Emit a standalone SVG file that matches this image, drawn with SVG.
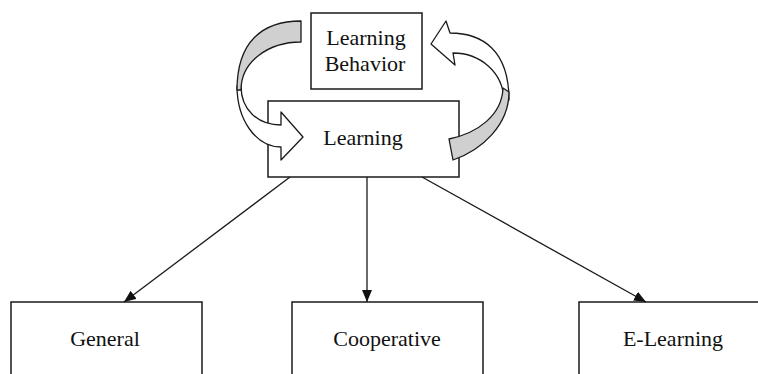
<svg xmlns="http://www.w3.org/2000/svg" width="758" height="374" viewBox="0 0 758 374">
<style>
.box{fill:#fff;stroke:#1a1a1a;stroke-width:1.5}
.lbl{font-family:"Liberation Serif","Times New Roman",serif;font-size:22px;fill:#111;text-anchor:middle}
.conn{stroke:#1a1a1a;stroke-width:1.3;fill:none;marker-end:url(#ah)}
.band{stroke:#1a1a1a;stroke-width:1.3;stroke-linejoin:round}
.white{fill:#fff}
.gray{fill:#d0d0d0}
</style>
<defs>
<marker id="ah" viewBox="0 0 12 10" refX="12" refY="5" markerWidth="12" markerHeight="10" markerUnits="userSpaceOnUse" orient="auto">
<path d="M0,0 L12,5 L0,10 Z" fill="#111"/>
</marker>
</defs>
<rect width="758" height="374" fill="#fff"/>
<g id="node-learning-behavior">
<rect class="box" x="311" y="13" width="111" height="76"/>
<text class="lbl" x="366" y="45">Learning</text>
<text class="lbl" x="365" y="71">Behavior</text>
</g>
<g id="node-learning">
<rect class="box" x="268" y="101" width="191" height="76"/>
<text class="lbl" x="363" y="145">Learning</text>
</g>
<g id="node-general">
<rect class="box" x="11" y="302" width="191" height="90"/>
<text class="lbl" x="105" y="346">General</text>
</g>
<g id="node-cooperative">
<rect class="box" x="292" y="302" width="191" height="90"/>
<text class="lbl" x="387" y="346">Cooperative</text>
</g>
<g id="node-elearning">
<rect class="box" x="579" y="302" width="191" height="90"/>
<text class="lbl" x="673" y="346">E-Learning</text>
</g>
<g id="connectors">
<line class="conn" x1="290" y1="177" x2="124" y2="302"/>
<line class="conn" x1="367" y1="177" x2="367" y2="302"/>
<line class="conn" x1="422" y1="177" x2="646" y2="302"/>
</g>
<g id="cycle-arrows">
<path class="band white" d="M237,86 C237,120 256,147 281,147 L281,160 L303,137 L281,112 L281,125 C258,125 241,110 241,86 Z"/>
<path class="band gray" d="M301,21 C262,21 237,42 237,90 L241,90 C241,62 268,42 301,42 Z"/>
<path class="band white" d="M509,100 C509,50 482,33 450,33 L446,21 L431,44 L455,65 L453,53 C480,53 503,72 504,100 Z"/>
<path class="band gray" d="M503,88 C502,115 478,133 449,139 L453,160 C482,150 509,125 509,92 Z"/>
</g>
</svg>
